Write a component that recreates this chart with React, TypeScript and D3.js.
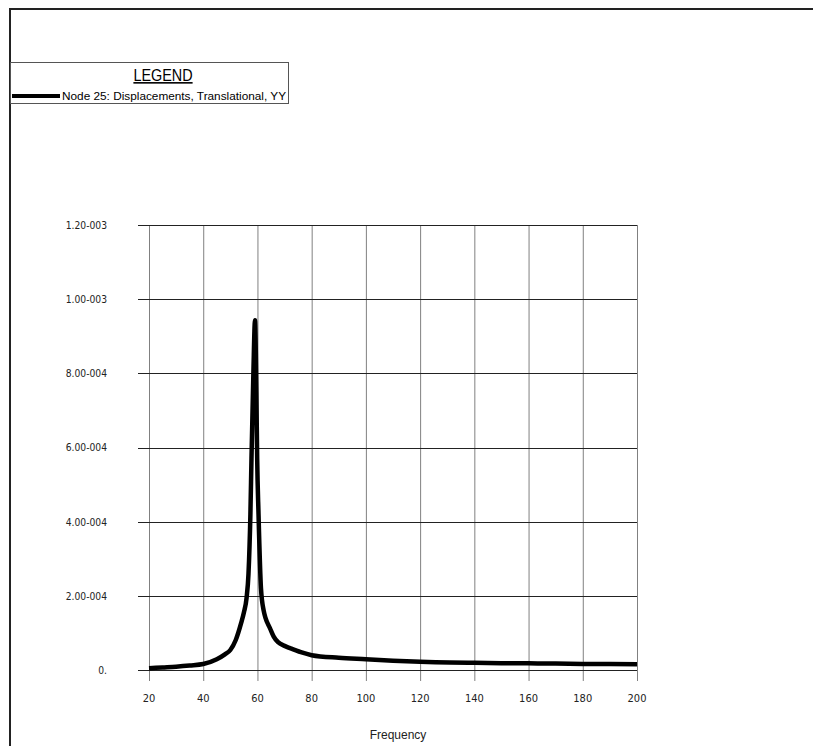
import React, {useEffect, useRef} from "react";
import * as d3 from "d3";

// frequency response
const freqs = [20, 25, 30, 35, 40, 45, 48, 50, 52, 54, 55, 56, 56.7, 57.4, 57.8, 58.5, 59.1, 59.6, 59.9, 60.4, 61.3, 62.3, 63, 64.6, 66, 67.6, 70, 72, 76, 80, 90, 100, 110, 120, 131, 140, 150, 160, 170, 180, 190, 200]
const disps = [5e-6, 7e-6, 9e-6, 1.2e-5, 1.6e-5, 2.9e-5, 4.2e-5, 5.4e-5, 8.1e-5, 1.27e-4, 1.55e-4, 1.95e-4, 2.6e-4, 4.2e-4, 5.7e-4, 8.0e-4, 9.43e-4, 7.5e-4, 5.7e-4, 4.2e-4, 2.2e-4, 1.6e-4, 1.4e-4, 1.13e-4, 9.0e-5, 7.5e-5, 6.5e-5, 5.9e-5, 4.8e-5, 4.0e-5, 3.3e-5, 2.9e-5, 2.5e-5, 2.2e-5, 2.0e-5, 1.95e-5, 1.85e-5, 1.8e-5, 1.75e-5, 1.65e-5, 1.6e-5, 1.55e-5]

const xTicks = [20, 40, 60, 80, 100, 120, 140, 160, 180, 200]
const yTicks = [0, 2e-4, 4e-4, 6e-4, 8e-4, 1e-3, 1.2e-3]
const yTickLabels = ["0.", "2.00-004", "4.00-004", "6.00-004", "8.00-004", "1.00-003", "1.20-003"]

const legendTitle = "LEGEND"
const seriesName = "Node 25: Displacements, Translational, YY"
const xTitle = "Frequency"

const narrow = "'Liberation Sans Narrow', 'DejaVu Sans Condensed', 'Arial Narrow', sans-serif"
const sans = "'Liberation Sans', Arial, sans-serif"

const App = () => {
    const ref = useRef<SVGSVGElement>(null)

    useEffect(() => {
        const svg = d3.select(ref.current)
        svg.selectAll("*").remove()

        const left = 149, right = 637, top = 225, bottom = 670

        const x = d3.scaleLinear().domain([20, 200]).range([left, right])
        const y = d3.scaleLinear().domain([0, 1.2e-3]).range([bottom, top])

        // outer frame
        svg.append("rect")
            .attr("x", 10).attr("y", 9)
            .attr("width", 900).attr("height", 900)
            .attr("fill", "none")
            .attr("stroke", "#222")
            .attr("stroke-width", 2)

        // legend
        const lg = svg.append("g")
        lg.append("rect")
            .attr("x", 10.5).attr("y", 62.5)
            .attr("width", 278).attr("height", 41)
            .attr("fill", "#fff")
            .attr("stroke", "#555")
            .attr("stroke-width", 1)
        lg.append("text")
            .attr("x", 163).attr("y", 81)
            .attr("text-anchor", "middle")
            .attr("font-family", sans)
            .attr("font-size", 16)
            .attr("transform", "translate(163,0) scale(0.9,1) translate(-163,0)")
            .style("text-decoration", "underline")
            .text(legendTitle)
        lg.append("line")
            .attr("x1", 12).attr("x2", 60)
            .attr("y1", 96).attr("y2", 96)
            .attr("stroke", "#000")
            .attr("stroke-width", 4)
        lg.append("text")
            .attr("x", 62).attr("y", 100)
            .attr("font-family", sans)
            .attr("font-size", 11.8)
            .text(seriesName)

        // grid: gray verticals, dark horizontals, with tick stubs
        svg.append("g").selectAll("line")
            .data(xTicks)
            .join("line")
            .attr("x1", d => x(d) + 0.5).attr("x2", d => x(d) + 0.5)
            .attr("y1", top).attr("y2", bottom + 11)
            .attr("stroke", "#808080")
            .attr("stroke-width", 1)

        svg.append("g").selectAll("line")
            .data(yTicks)
            .join("line")
            .attr("x1", left - 11).attr("x2", right)
            .attr("y1", d => Math.round(y(d)) + 0.5).attr("y2", d => Math.round(y(d)) + 0.5)
            .attr("stroke", "#222")
            .attr("stroke-width", 1)

        // tick labels
        svg.append("g").selectAll("text")
            .data(yTicks)
            .join("text")
            .attr("x", 107)
            .attr("y", d => y(d) + 4)
            .attr("text-anchor", "end")
            .attr("font-family", narrow)
            .attr("font-size", 11)
            .attr("fill", "#222")
            .attr("transform", "translate(107,0) scale(0.93,1) translate(-107,0)")
            .text((d, i) => yTickLabels[i])

        svg.append("g").selectAll("text")
            .data(xTicks)
            .join("text")
            .attr("x", d => x(d))
            .attr("y", 702)
            .attr("text-anchor", "middle")
            .attr("font-family", narrow)
            .attr("font-size", 11)
            .attr("fill", "#222")
            .text(d => d)

        svg.append("text")
            .attr("x", (left + right) / 2 + 5)
            .attr("y", 739)
            .attr("text-anchor", "middle")
            .attr("font-family", sans)
            .attr("font-size", 12)
            .attr("fill", "#222")
            .text(xTitle)

        // the curve
        const line = d3.line<number>()
            .x((d, i) => x(freqs[i]))
            .y(d => y(d))
            .curve(d3.curveMonotoneX)

        svg.append("path")
            .datum(disps)
            .attr("fill", "none")
            .attr("stroke", "#000")
            .attr("stroke-width", 4.5)
            .attr("stroke-linejoin", "round")
            .attr("d", line)
    }, [])

    return <svg ref={ref} width={813} height={746}
                style={{position: "absolute", left: 0, top: 0, background: "#fff"}}/>
}

export default App
